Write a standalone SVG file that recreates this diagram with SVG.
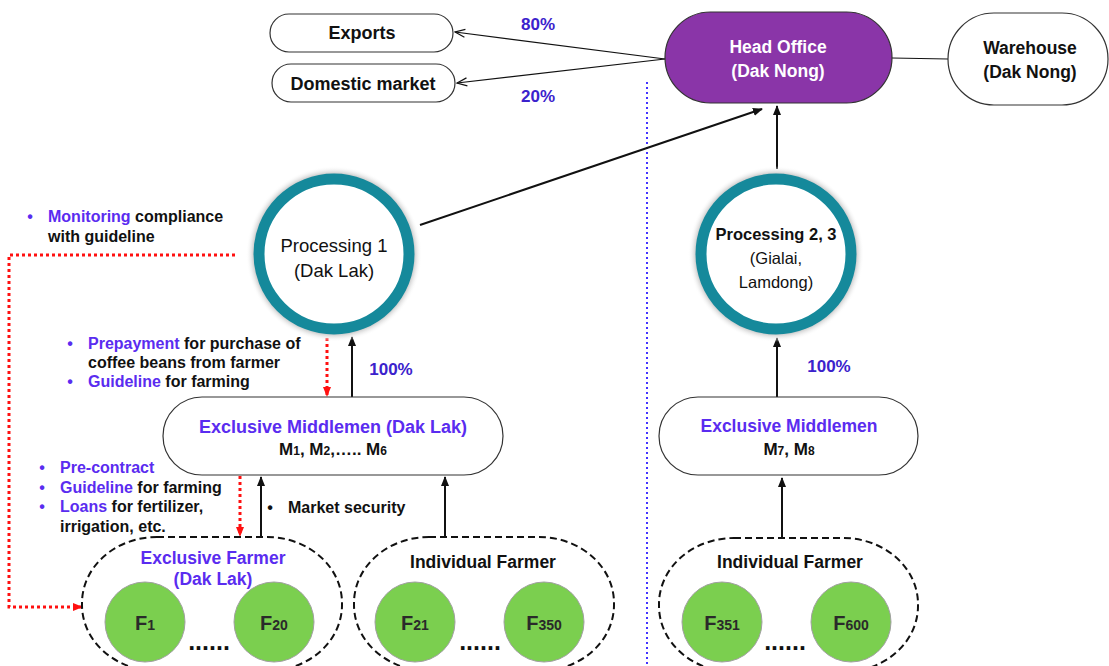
<svg xmlns="http://www.w3.org/2000/svg" width="1109" height="666" viewBox="0 0 1109 666">
<defs>
<style>
text{font-family:"Liberation Sans",Arial,sans-serif;fill:#111}
.b{font-weight:bold}
.blue{fill:#5a2cf0}
.pct{fill:#3b22cc;font-weight:bold;font-size:17px}
.note{font-size:16px;font-weight:bold}
.box{fill:#fff;stroke:#333;stroke-width:1.2}
.dash{fill:none;stroke:#111;stroke-width:2;stroke-dasharray:7 4}
.farm{fill:#7bcf4f;stroke:#a0a0a0;stroke-width:1}
.ft{font-size:20px;font-weight:bold;fill:#2a2a2a}
.fs{font-size:14px}
.dots{font-size:25px;font-weight:bold}
.conn{stroke:#111;fill:none}
.red{stroke:#ff1010;stroke-width:3;stroke-dasharray:3 3;fill:none}
.ring{fill:#fff;stroke:#15899b;stroke-width:11}
</style>
<marker id="ah" markerWidth="10" markerHeight="10" refX="9" refY="5" orient="auto" markerUnits="userSpaceOnUse"><path d="M0,1 L10,5 L0,9 z" fill="#111"/></marker>
<marker id="ao" markerWidth="12" markerHeight="10" refX="11" refY="5" orient="auto" markerUnits="userSpaceOnUse"><path d="M1,1 L11,5 L1,9" fill="none" stroke="#111" stroke-width="1.2"/></marker>
<marker id="ar" markerWidth="10" markerHeight="10" refX="9" refY="5" orient="auto" markerUnits="userSpaceOnUse"><path d="M0,1 L10,5 L0,9 z" fill="#ff1010"/></marker>
<radialGradient id="halo" cx="0.5" cy="0.5" r="0.5">
<stop offset="0.84" stop-color="#a8a8a8"/>
<stop offset="0.92" stop-color="#d4d4d4"/>
<stop offset="1" stop-color="#ffffff" stop-opacity="0"/>
</radialGradient>
</defs>
<rect width="1109" height="666" fill="#fff"/>

<!-- divider -->
<line x1="647" y1="82" x2="647" y2="666" stroke="#4433ff" stroke-width="2" stroke-dasharray="2 3"/>

<g id="connectors">
<line class="conn" x1="665" y1="59" x2="455" y2="32" stroke-width="1.2" marker-end="url(#ao)"/>
<line class="conn" x1="665" y1="59" x2="457" y2="83" stroke-width="1.2" marker-end="url(#ao)"/>
<line class="conn" x1="892" y1="58" x2="948" y2="59" stroke-width="1.2"/>
<line class="conn" x1="420" y1="225" x2="762" y2="109" stroke-width="2" marker-end="url(#ah)"/>
<line class="conn" x1="777" y1="169" x2="777" y2="106" stroke-width="2" marker-end="url(#ah)"/>
<line class="conn" x1="352" y1="397" x2="352" y2="337" stroke-width="2" marker-end="url(#ah)"/>
<line class="red" x1="327" y1="338" x2="327" y2="396" marker-end="url(#ar)"/>
<line class="conn" x1="777" y1="397" x2="777" y2="338" stroke-width="2" marker-end="url(#ah)"/>
<line class="red" x1="240" y1="476" x2="240" y2="536" marker-end="url(#ar)"/>
<line class="conn" x1="261" y1="537" x2="261" y2="477" stroke-width="2" marker-end="url(#ah)"/>
<line class="conn" x1="445" y1="537" x2="445" y2="477" stroke-width="2" marker-end="url(#ah)"/>
<line class="conn" x1="782" y1="537" x2="782" y2="478" stroke-width="2" marker-end="url(#ah)"/>
<polyline class="red" points="235,255 9,255 9,607 82,607" marker-end="url(#ar)"/>
</g>

<g id="exports">
<rect class="box" x="270" y="14" width="183" height="38" rx="19"/>
<text x="362" y="39" text-anchor="middle" class="b" font-size="18">Exports</text>
</g>
<g id="domestic">
<rect class="box" x="272" y="64" width="183" height="38" rx="19"/>
<text x="363" y="90" text-anchor="middle" class="b" font-size="18">Domestic market</text>
</g>
<text x="538" y="30" text-anchor="middle" class="pct">80%</text>
<text x="538" y="102" text-anchor="middle" class="pct">20%</text>

<g id="head-office">
<rect x="665" y="12" width="227" height="91" rx="45.5" fill="#8a35a8" stroke="#333" stroke-width="1.2"/>
<text x="778" y="53" text-anchor="middle" class="b" font-size="17.5" style="fill:#fff">Head Office</text>
<text x="778" y="77" text-anchor="middle" class="b" font-size="17.5" style="fill:#fff">(Dak Nong)</text>
</g>
<g id="warehouse">
<rect class="box" x="948" y="13" width="160" height="92" rx="46"/>
<text x="1030" y="54" text-anchor="middle" class="b" font-size="17.5">Warehouse</text>
<text x="1030" y="78" text-anchor="middle" class="b" font-size="17.5">(Dak Nong)</text>
</g>

<g id="processing-1">
<circle cx="334" cy="254" r="88" fill="url(#halo)"/>
<circle class="ring" cx="334" cy="254" r="75"/>
<text x="334" y="252" text-anchor="middle" font-size="18.5">Processing 1</text>
<text x="334" y="277" text-anchor="middle" font-size="18.5">(Dak Lak)</text>
</g>
<g id="processing-23">
<circle cx="776" cy="254" r="88" fill="url(#halo)"/>
<circle class="ring" cx="776" cy="254" r="75"/>
<text x="776" y="240" text-anchor="middle" class="b" font-size="16.5">Processing 2, 3</text>
<text x="776" y="264" text-anchor="middle" font-size="16.5">(Gialai,</text>
<text x="776" y="288" text-anchor="middle" font-size="16.5">Lamdong)</text>
</g>

<text x="30" y="222" class="note blue" text-anchor="middle">•</text>
<text x="48" y="222" class="note"><tspan class="blue">Monitoring</tspan> compliance</text>
<text x="48" y="242" class="note">with guideline</text>

<text x="70" y="349" class="note blue" text-anchor="middle">•</text>
<text x="88" y="349" class="note"><tspan class="blue">Prepayment</tspan> for purchase of</text>
<text x="88" y="368" class="note">coffee beans from farmer</text>
<text x="70" y="387" class="note blue" text-anchor="middle">•</text>
<text x="88" y="387" class="note"><tspan class="blue">Guideline</tspan> for farming</text>

<text x="391" y="375" text-anchor="middle" class="pct">100%</text>
<text x="829" y="372" text-anchor="middle" class="pct">100%</text>

<g id="middlemen-daklak">
<rect class="box" x="163" y="397" width="340" height="78" rx="39"/>
<text x="333" y="433" text-anchor="middle" class="b blue" font-size="18">Exclusive Middlemen (Dak Lak)</text>
<text x="333" y="455" text-anchor="middle" class="b" font-size="17">M<tspan font-size="12">1</tspan>, M<tspan font-size="12">2</tspan>,….. M<tspan font-size="12">6</tspan></text>
</g>
<g id="middlemen-right">
<rect class="box" x="659" y="397" width="259" height="78" rx="39"/>
<text x="789" y="432" text-anchor="middle" class="b blue" font-size="17.5">Exclusive Middlemen</text>
<text x="789" y="455" text-anchor="middle" class="b" font-size="17">M<tspan font-size="12">7</tspan>, M<tspan font-size="12">8</tspan></text>
</g>

<text x="42" y="473" class="note blue" text-anchor="middle">•</text>
<text x="60" y="473" class="note blue">Pre-contract</text>
<text x="42" y="493" class="note blue" text-anchor="middle">•</text>
<text x="60" y="493" class="note"><tspan class="blue">Guideline</tspan> for farming</text>
<text x="42" y="512" class="note blue" text-anchor="middle">•</text>
<text x="60" y="512" class="note"><tspan class="blue">Loans</tspan> for fertilizer,</text>
<text x="60" y="532" class="note">irrigation, etc.</text>

<text x="270" y="513" class="note" text-anchor="middle">•</text>
<text x="288" y="513" class="note">Market security</text>

<g id="exclusive-farmer">
<rect class="dash" x="82" y="537" width="260" height="134" rx="75" ry="66"/>
<text x="213" y="564" text-anchor="middle" class="b blue" font-size="17.5">Exclusive Farmer</text>
<text x="213" y="585" text-anchor="middle" class="b blue" font-size="17.5">(Dak Lak)</text>
<circle class="farm" cx="145" cy="622" r="40"/>
<text x="145" y="630" text-anchor="middle" class="ft">F<tspan class="fs">1</tspan></text>
<circle class="farm" cx="274" cy="622" r="40"/>
<text x="274" y="630" text-anchor="middle" class="ft">F<tspan class="fs">20</tspan></text>
<text x="209" y="650" text-anchor="middle" class="dots">......</text>
</g>

<g id="individual-farmer-1">
<rect class="dash" x="354" y="537" width="260" height="134" rx="75" ry="66"/>
<text x="483" y="568" text-anchor="middle" class="b" font-size="17.5">Individual Farmer</text>
<circle class="farm" cx="415" cy="622" r="40"/>
<text x="415" y="630" text-anchor="middle" class="ft">F<tspan class="fs">21</tspan></text>
<circle class="farm" cx="544" cy="622" r="40"/>
<text x="544" y="630" text-anchor="middle" class="ft">F<tspan class="fs">350</tspan></text>
<text x="480" y="650" text-anchor="middle" class="dots">......</text>
</g>

<g id="individual-farmer-2">
<rect class="dash" x="659" y="538" width="259" height="134" rx="75" ry="66"/>
<text x="790" y="568" text-anchor="middle" class="b" font-size="17.5">Individual Farmer</text>
<circle class="farm" cx="722" cy="622" r="40"/>
<text x="722" y="630" text-anchor="middle" class="ft">F<tspan class="fs">351</tspan></text>
<circle class="farm" cx="851" cy="622" r="40"/>
<text x="851" y="630" text-anchor="middle" class="ft">F<tspan class="fs">600</tspan></text>
<text x="785" y="650" text-anchor="middle" class="dots">......</text>
</g>
</svg>
